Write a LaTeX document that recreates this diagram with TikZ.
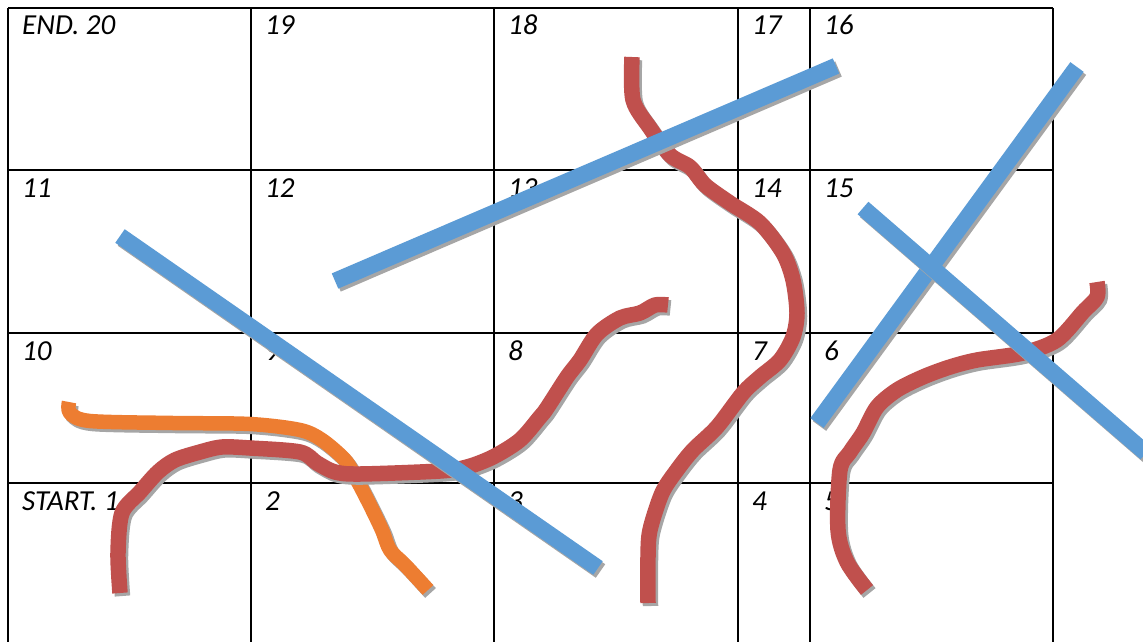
\documentclass[tikz,border=0pt]{standalone}
\usepackage{fontspec}
\setmainfont{Carlito}
\begin{document}
\begin{tikzpicture}[x=1pt,y=-1pt,
  gridline/.style={line width=2pt,black},
  lbl/.style={anchor=base west,inner sep=0pt,font=\fontsize{29}{32}\selectfont\itshape},
  shadowed/.style={preaction={draw=black!35,line width=#1,transform canvas={xshift=2.5pt,yshift=-3pt}},line width=#1},
  blueline/.style={shadowed=16.5pt,draw={rgb,255:red,91;green,155;blue,213}},
  redline/.style={shadowed=15.5pt,draw={rgb,255:red,192;green,80;blue,77},line join=round},
  orangeline/.style={shadowed=14.5pt,draw={rgb,255:red,237;green,125;blue,49},line join=round}]
\useasboundingbox (0,0) rectangle (1143,642);
% grid
\foreach \gx in {8,251,494,738,810,1053} \draw[gridline] (\gx,8) -- (\gx,645);
\foreach \gy in {8,170,333,483} \draw[gridline] (8,\gy) -- (1053,\gy);
% labels
\node[lbl] (c20) at (22,35) {END. 20};
\node[lbl] (c19) at (265,35) {19};
\node[lbl] (c18) at (508,35) {18};
\node[lbl] (c17) at (752,35) {17};
\node[lbl] (c16) at (824,35) {16};
\node[lbl] (c11) at (22,197) {11};
\node[lbl] (c12) at (265,197) {12};
\node[lbl] (c13) at (508,197) {13};
\node[lbl] (c14) at (752,197) {14};
\node[lbl] (c15) at (824,197) {15};
\node[lbl] (c10) at (22,360) {10};
\node[lbl] (c9) at (265,360) {9};
\node[lbl] (c8) at (508,360) {8};
\node[lbl] (c7) at (752,360) {7};
\node[lbl] (c6) at (824,360) {6};
\node[lbl] (c1) at (22,510) {START. 1};
\node[lbl] (c2) at (265,510) {2};
\node[lbl] (c3) at (508,510) {3};
\node[lbl] (c4) at (752,510) {4};
\node[lbl] (c5) at (824,510) {5};
% orange
\draw[orangeline] plot[smooth,tension=0.5] coordinates {(69,402) (70,413) (90,421) (173,423) (250,424) (300,430) (322,440) (345,460) (357,480) (370,505) (382,530) (390,550) (405,565) (428,590)};
% red snakes
\draw[redline] plot[smooth,tension=0.5] coordinates {(120,593) (118,553) (122,513) (140,492) (158,472) (175,460) (200,452) (222,447) (250,448) (300,452) (317,463) (335,472) (360,474) (440,471) (467,467) (493,457) (520,440) (540,417) (547,408) (567,377) (580,360) (597,334) (620,318) (640,313) (655,305) (668,305)};
\draw[redline] plot[smooth,tension=0.5] coordinates {(632,57) (633,100) (650,128) (670,155) (690,167) (705,185) (730,203) (760,223) (783,253) (793,280) (797,313) (793,337) (780,360) (760,377) (743,393) (717,427) (693,450) (677,470) (662,493) (650,530) (648,557) (648,603)};
\draw[redline] plot[smooth,tension=0.5] coordinates {(1097,282) (1097,297) (1083,312) (1057,340) (1023,353) (977,360) (950,367) (923,377) (897,390) (877,407) (863,433) (850,452) (840,470) (838,530) (847,562) (867,590)};
% blue lines
\coordinate (b1s) at (120,236); \coordinate (b1e) at (598,568);
\coordinate (b2s) at (335,281); \coordinate (b2e) at (836,66);
\coordinate (b3s) at (817,423); \coordinate (b3e) at (1077,67);
\coordinate (b4s) at (863,208); \coordinate (b4e) at (1146,453);
\draw[blueline] (b1s) -- (b1e);
\draw[blueline] (b2s) -- (b2e);
\draw[blueline] (b3s) -- (b3e);
\draw[blueline] (b4s) -- (b4e);
\end{tikzpicture}
\end{document}
